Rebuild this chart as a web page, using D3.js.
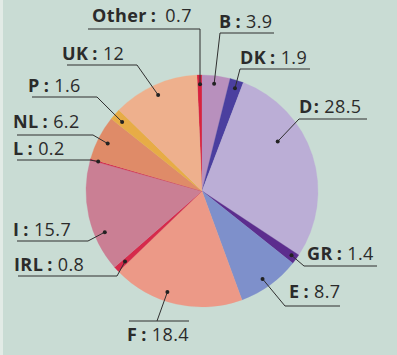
<!DOCTYPE html>
<html>
<head>
<meta charset="utf-8">
<script src="https://cdn.jsdelivr.net/npm/d3@7/dist/d3.min.js"></script>
<style>
  html, body { margin: 0; padding: 0; background: #c9dcd4; }
  svg { display: block; }
  text { font-family: "Open Sans", Lato, sans-serif; fill: #2b2b2b; letter-spacing: 0.4px; }
</style>
</head>
<body>
<svg id="chart" width="397" height="355"></svg>
<script>
// Share by country (percent), in drawing order clockwise
const countries = ["Other", "B", "DK", "D", "GR", "E", "F", "IRL", "I", "L", "NL", "P", "UK"];
const shares    = [0.7, 3.9, 1.9, 28.5, 1.4, 8.7, 18.4, 0.8, 15.7, 0.2, 6.2, 1.6, 12];
const sliceColors = ["#d7223f", "#b890bd", "#4b3f9f", "#bbaed6", "#5c2d8e", "#7e90cb",
                     "#ec9987", "#d62a4b", "#ca7f94", "#d42448", "#df8b68", "#e7ac46", "#eeb08d"];

// Label placement: dot inside slice (t = fraction across slice, k = fraction of radius),
// text start/baseline, underline span and where the leader meets it
const labelLayout = [
  { t: 0.58, k: 0.92, tx: 92,  ty: 22,  uy: 29,  ux0: 88,  ux1: 200, ex: 200 },
  { t: 0.46, k: 0.93, tx: 219, ty: 28,  uy: 33,  ux0: 220, ux1: 274, ex: 220 },
  { t: 0.55, k: 0.93, tx: 240, ty: 64,  uy: 69,  ux0: 240, ux1: 310, ex: 240 },
  { t: 0.35, k: 0.78, tx: 299, ty: 113, uy: 119, ux0: 299, ux1: 367, ex: 299 },
  { t: 0.44, k: 0.95, tx: 307, ty: 260, uy: 266, ux0: 304, ux1: 377, ex: 304 },
  { t: 0.54, k: 0.92, tx: 289, ty: 298, uy: 306, ux0: 285, ux1: 340, ex: 285 },
  { t: 0.59, k: 0.92, tx: 127, ty: 341, uy: 321, ux0: 129, ux1: 189, ex: 157 },
  { t: 0.50, k: 0.90, tx: 14,  ty: 271, uy: 276, ux0: 18,  ux1: 117, ex: 117 },
  { t: 0.32, k: 0.91, tx: 13,  ty: 236, uy: 241, ux0: 17,  ux1: 88,  ex: 88 },
  { t: 0.50, k: 0.93, tx: 13,  ty: 155, uy: 160, ux0: 17,  ux1: 90,  ex: 90 },
  { t: 0.47, k: 0.91, tx: 13,  ty: 128, uy: 135, ux0: 17,  ux1: 93,  ex: 93 },
  { t: 0.40, k: 0.91, tx: 28,  ty: 92,  uy: 97,  ux0: 32,  ux1: 97,  ex: 97 },
  { t: 0.49, k: 0.91, tx: 62,  ty: 60,  uy: 65,  ux0: 67,  ux1: 137, ex: 137 }
];

const svg = d3.select("#chart");
const cx = 202, cy = 191, radius = 116;

// light paper edge on the left
svg.append("rect").attr("x", 0).attr("y", 0).attr("width", 3).attr("height", 355).attr("fill", "#e2ebe6");

const data = countries.map((c, i) => ({ code: c, value: shares[i], color: sliceColors[i], lab: labelLayout[i] }));

// Start so that "Other" ends exactly at 12 o'clock
const total = d3.sum(shares);
const offset = -2 * Math.PI * shares[0] / total;

const pie = d3.pie().value(d => d.value).sort(null)
  .startAngle(offset).endAngle(offset + 2 * Math.PI);
const arcs = pie(data);
const arc = d3.arc().innerRadius(0).outerRadius(radius);

const g = svg.append("g").attr("transform", `translate(${cx},${cy})`);
g.selectAll("path.slice").data(arcs).join("path")
  .attr("class", "slice")
  .attr("d", arc)
  .attr("fill", d => d.data.color)
  .attr("stroke", d => d.data.color)
  .attr("stroke-width", 0.3);

// Leader lines, dots and labels
const ink = "#2f2f2f";
arcs.forEach(a => {
  const L = a.data.lab;
  const ang = a.startAngle + L.t * (a.endAngle - a.startAngle);
  const [px, py] = d3.pointRadial(ang, radius * L.k);
  const dx = cx + px, dy = cy + py;

  svg.append("line").attr("x1", L.ux0).attr("x2", L.ux1).attr("y1", L.uy).attr("y2", L.uy)
    .attr("stroke", ink).attr("stroke-width", 1);
  svg.append("line").attr("x1", L.ex).attr("y1", L.uy).attr("x2", dx).attr("y2", dy)
    .attr("stroke", ink).attr("stroke-width", 1);
  svg.append("circle").attr("cx", dx).attr("cy", dy).attr("r", 2).attr("fill", "#222");

  const t = svg.append("text").attr("x", L.tx).attr("y", L.ty).attr("font-size", 18);
  t.append("tspan").attr("font-weight", 700).text(a.data.code);
  t.append("tspan").attr("font-weight", 700).attr("dx", a.data.code === "D" ? 1 : 4).text(":");
  t.append("tspan").attr("font-weight", 400).attr("dx", a.data.code === "Other" ? 9 : 5).text(String(a.data.value));
});
</script>
</body>
</html>
